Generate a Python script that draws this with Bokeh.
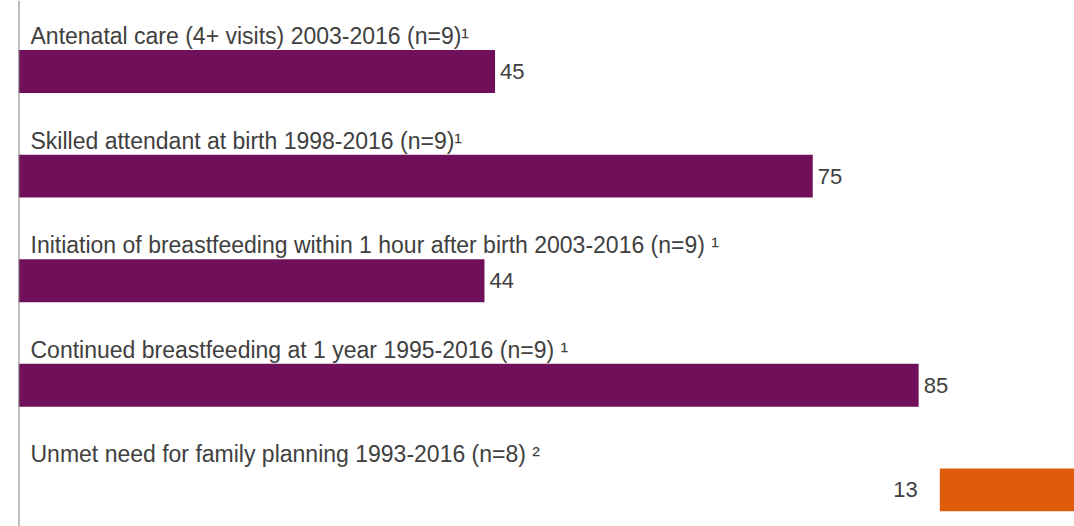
from bokeh.plotting import figure
from bokeh.models import Range1d, ColumnDataSource
from bokeh.core.properties import value
from bokeh.embed import file_html
from bokeh.resources import INLINE

# ---- data ----
labels = [
    "Antenatal care (4+ visits) 2003-2016 (n=9)\u00b9",
    "Skilled attendant at birth 1998-2016 (n=9)\u00b9",
    "Initiation of breastfeeding within 1 hour after birth 2003-2016 (n=9)  \u00b9",
    "Continued breastfeeding at 1 year 1995-2016 (n=9)  \u00b9",
    "Unmet need for family planning 1993-2016 (n=8) \u00b2",
]
positive_values = [45, 75, 44, 85]   # purple bars, drawn from the left
negative_values = [13]               # orange bar, drawn from the right (100 - value)
scale_max = 100

PURPLE = "#70105A"
ORANGE = "#DE5C0B"
TEXT = "#404040"
FONT = "Liberation Sans"

n = len(labels)
idx = list(range(n))

p = figure(width=1074, height=526, output_backend="svg", toolbar_location=None,
           x_range=Range1d(0, 1056 / 10.59), y_range=Range1d(4.35, -0.679),
           min_border_left=18, min_border_right=0, min_border_top=0, min_border_bottom=0)
p.xaxis.visible = False
p.xgrid.visible = False
p.ygrid.visible = False
p.outline_line_color = None
p.yaxis.major_tick_line_color = None
p.yaxis.minor_tick_line_color = None
p.yaxis.major_label_text_font_size = "0pt"
p.yaxis.axis_line_color = "#7f7f7f"
p.yaxis.axis_line_width = 2
p.yaxis.fixed_location = 0

bar_h = 0.41

pos_src = ColumnDataSource(dict(y=idx[:len(positive_values)], v=positive_values,
                                t=[str(v) for v in positive_values]))
p.hbar(y="y", left=0, right="v", height=bar_h, source=pos_src,
       fill_color=PURPLE, line_color=None)
p.text(x="v", y="y", text="t", source=pos_src, x_offset=5,
       text_align="left", text_baseline="middle", text_color=TEXT,
       text_font=value(FONT), text_font_size="22px")

neg_idx = idx[len(positive_values):]
neg_src = ColumnDataSource(dict(y=neg_idx, l=[scale_max - v for v in negative_values],
                                r=[scale_max] * len(negative_values),
                                t=[str(v) for v in negative_values]))
p.hbar(y="y", left="l", right="r", height=bar_h, source=neg_src,
       fill_color=ORANGE, line_color=None)
p.text(x="l", y="y", text="t", source=neg_src, x_offset=-22,
       text_align="right", text_baseline="middle", text_color=TEXT,
       text_font=value(FONT), text_font_size="22px")

lab_src = ColumnDataSource(dict(x=[0] * n, y=[i - bar_h / 2 for i in idx], t=labels))
p.text(x="x", y="y", text="t", source=lab_src, x_offset=12, y_offset=-14,
       text_align="left", text_baseline="middle", text_color=TEXT,
       text_font=value(FONT), text_font_size="23px")

open("out.html", "w").write(file_html(p, INLINE))
